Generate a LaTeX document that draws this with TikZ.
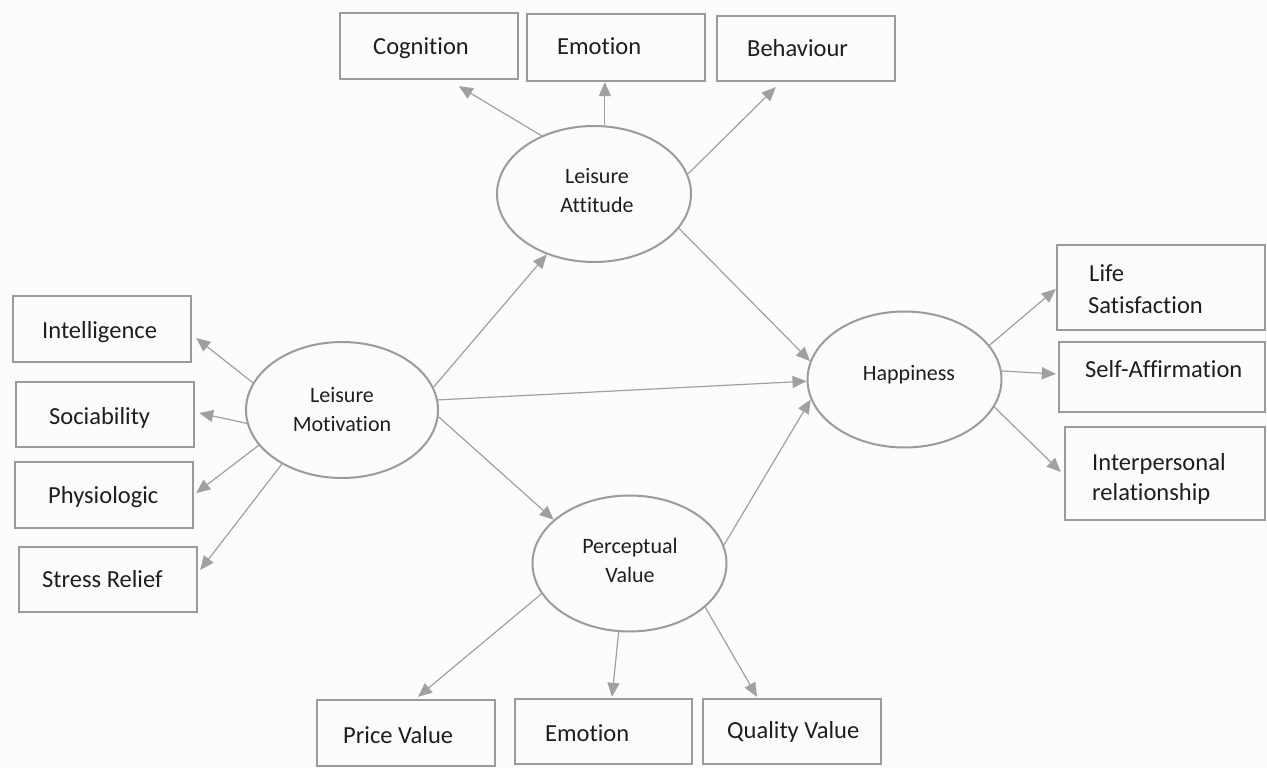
\documentclass[tikz,border=0pt]{standalone}
\usepackage{fontspec}
\setmainfont{Carlito}[RawFeature={-liga;-clig;-rlig;-dlig;-calt}]
\usetikzlibrary{arrows.meta,calc,shapes.geometric}
\definecolor{bordergray}{RGB}{155,155,155}
\definecolor{arrowgray}{RGB}{160,160,160}
\definecolor{bgcol}{RGB}{252,252,252}
\definecolor{txtcol}{RGB}{30,30,30}
\begin{document}
\begin{tikzpicture}[x=1pt,y=-1pt,
  box/.style={draw=bordergray, line width=2.4pt, fill=bgcol, rectangle, inner sep=0pt},
  lat/.style={draw=bordergray, line width=2pt, fill=bgcol, ellipse, inner sep=0pt, minimum width=194pt, minimum height=136pt},
  btxt/.style={anchor=base west, inner sep=0pt, text=txtcol, font=\fontsize{24.5}{29}\selectfont},
  etxt/.style={anchor=base, inner sep=0pt, text=txtcol, font=\fontsize{22}{29}\selectfont},
  arr/.style={draw=arrowgray, line width=1.2pt, -{Triangle[length=14pt,width=12pt]}},
]
\useasboundingbox (0,0) rectangle (1267,768);
\fill[bgcol] (0,0) rectangle (1267,768);

% boxes
\node[box, minimum width=178pt, minimum height=66pt] (cog) at (429,46) {};
\node[box, minimum width=178pt, minimum height=67pt] (emo) at (616,47.5) {};
\node[box, minimum width=178pt, minimum height=65pt] (beh) at (806,48.5) {};
\node[box, minimum width=178pt, minimum height=66pt] (intel) at (102,329) {};
\node[box, minimum width=178pt, minimum height=65pt] (soc) at (105,414.5) {};
\node[box, minimum width=178pt, minimum height=66pt] (phys) at (104,495) {};
\node[box, minimum width=178pt, minimum height=65pt] (stress) at (108,579.5) {};
\node[box, minimum width=178pt, minimum height=66pt] (price) at (406,733) {};
\node[box, minimum width=177pt, minimum height=65pt] (emotwo) at (603.5,731.5) {};
\node[box, minimum width=178pt, minimum height=65pt] (qual) at (792,731.5) {};
\node[box, minimum width=208pt, minimum height=85pt] (life) at (1161,287.5) {};
\node[box, minimum width=206pt, minimum height=70pt] (self) at (1162,377) {};
\node[box, minimum width=200pt, minimum height=93pt] (inter) at (1165,473.5) {};

% ellipses
\node[lat] (la) at (594,194) {};
\node[lat, minimum width=192pt] (lm) at (342,410) {};
\node[lat] (hap) at (904.5,379.5) {};
\node[lat] (pv) at (629.5,563.5) {};

% connectors
\draw[arr] (la.132.5) -- ($(cog.south west)+(120,6)$);
\draw[arr] (la.81.5) -- (la.81.5 |- emo.south);
\draw[arr] (la.12.9) -- ($(beh.south west)+(60,5)$);
\draw[arr] (la.-22) -- (hap.169.3);
\draw[arr] (lm.163) -- ($(intel.east)+(4,9)$);
\draw[arr] (lm.188.4) -- ($(soc.east)+(4,-1.5)$);
\draw[arr] (lm.203.4) -- ($(phys.east)+(2,-2)$);
\draw[arr] (lm.222) -- ($(stress.east)+(2,-9.5)$);
\draw[arr] (lm.14.6) -- (la.232.4);
\draw[arr] (lm.6) -- (hap.181);
\draw[arr] (lm.-4.7) -- (pv.150.8);
\draw[arr] (pv.11) -- (hap.192.9);
\draw[arr] (pv.199.4) -- ($(price.north)+(12,-2)$);
\draw[arr] (pv.261) -- ($(emotwo.north)+(8.5,-1)$);
\draw[arr] (pv.330.3) -- ($(qual.north)+(-35,-1)$);
\draw[arr] (hap.22.9) -- ($(life.west)+(0,1.5)$);
\draw[arr] (hap.5.4) -- ($(self.west)+(-2,-3)$);
\draw[arr] (hap.-17.9) -- ($(inter.west)+(-3,-1.5)$);

% box texts
\node[btxt] (cogt) at (373,55) {Cognition};
\node[btxt] (emot) at (557,55) {Emotion};
\node[btxt] (beht) at (747,57) {Behaviour};
\node[btxt] (intelt) at (42,338) {Intelligence};
\node[btxt] (soct) at (49,424) {Sociability};
\node[btxt] (physt) at (48,503) {Physiologic};
\node[btxt] (stresst) at (42,587) {Stress Relief};
\node[btxt] (pricet) at (343,743) {Price Value};
\node[btxt] (emotwot) at (545,741) {Emotion};
\node[btxt] (qualt) at (727,738) {Quality Value};
\node[btxt] (lifet) at (1089,281) {Life};
\node[btxt] (satt) at (1088,313) {Satisfaction};
\node[btxt] (selft) at (1085,377) {Self-Affirmation};
\node[btxt] (intert) at (1092,470) {Interpersonal};
\node[btxt] (relt) at (1092,500) {relationship};

% ellipse texts
\node[etxt] (laone) at (597,183) {Leisure};
\node[etxt] (latwo) at (597,212) {Attitude};
\node[etxt] (lmone) at (342,402) {Leisure};
\node[etxt] (lmtwo) at (342,431) {Motivation};
\node[etxt] (hapt) at (909,380) {Happiness};
\node[etxt] (pvone) at (630,553) {Perceptual};
\node[etxt] (pvtwo) at (630,582) {Value};
\end{tikzpicture}
\end{document}
